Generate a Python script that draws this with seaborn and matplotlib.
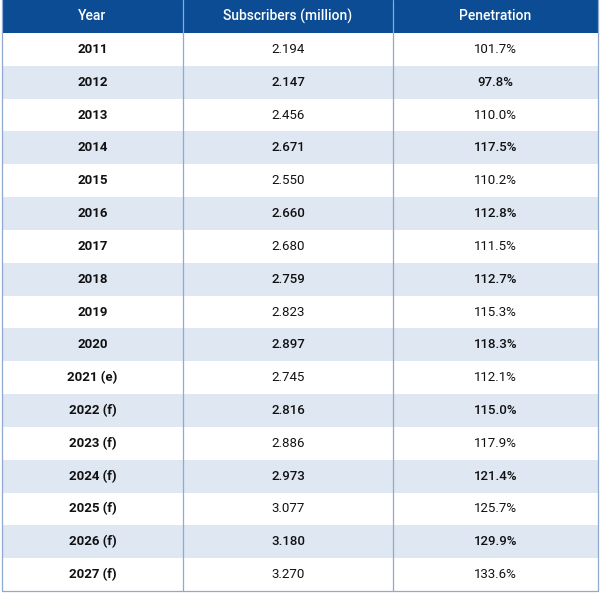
import numpy as np
import matplotlib.pyplot as plt
from matplotlib.colors import ListedColormap
import seaborn as sns

years = ["2011", "2012", "2013", "2014", "2015", "2016", "2017", "2018", "2019",
         "2020", "2021 (e)", "2022 (f)", "2023 (f)", "2024 (f)", "2025 (f)",
         "2026 (f)", "2027 (f)"]
subscribers = [2.194, 2.147, 2.456, 2.671, 2.550, 2.660, 2.680, 2.759, 2.823,
               2.897, 2.745, 2.816, 2.886, 2.973, 3.077, 3.180, 3.270]
penetration = [101.7, 97.8, 110.0, 117.5, 110.2, 112.8, 111.5, 112.7, 115.3,
               118.3, 112.1, 115.0, 117.9, 121.4, 125.7, 129.9, 133.6]
headers = ["Year", "Subscribers (million)", "Penetration"]

sns.set_theme(style="white", font="Roboto")

W, H = 600, 593
fig = plt.figure(figsize=(W / 100, H / 100), dpi=100)
ax = fig.add_axes([0, 0, 1, 1])
ax.set_xlim(0, W)
ax.set_ylim(H, 0)
ax.axis("off")

x_edges = np.array([2, 183, 393, 598])
header_h = 33
n = len(years)
row_h = (H - 2 - header_h) / n
y_edges = np.concatenate([[0], header_h + row_h * np.arange(n + 1)])

# 2 = header, 1 = shaded row, 0 = white row
codes = np.array([[2] * 3] + [[i % 2] * 3 for i in range(n)])
cmap = ListedColormap(["#ffffff", "#dfe7f3", "#0b4c94"])
ax.pcolormesh(x_edges, y_edges, codes, cmap=cmap, vmin=-0.5, vmax=2.5)

for xe in x_edges:
    ax.plot([xe, xe], [y_edges[0], y_edges[-1]], color="#8fa9cf", lw=0.9)
ax.plot([x_edges[0], x_edges[-1]], [y_edges[-1], y_edges[-1]], color="#8fa9cf", lw=0.9)

centers = (x_edges[:-1] + x_edges[1:]) / 2
for j, h in enumerate(headers):
    ax.text(centers[j], header_h / 2, h, color="white", fontsize=10,
            fontweight="medium", ha="center", va="center")

for i in range(n):
    yc = (y_edges[i + 1] + y_edges[i + 2]) / 2
    w = "medium" if i % 2 else "normal"
    ax.text(centers[0], yc, years[i], fontsize=9.5, fontweight="bold",
            ha="center", va="center", color="#111111")
    ax.text(centers[1], yc, f"{subscribers[i]:.3f}", fontsize=9.5, fontweight=w,
            ha="center", va="center", color="#111111")
    ax.text(centers[2], yc, f"{penetration[i]:.1f}%", fontsize=9.5, fontweight=w,
            ha="center", va="center", color="#111111")

fig.savefig("out.png", dpi=100)
